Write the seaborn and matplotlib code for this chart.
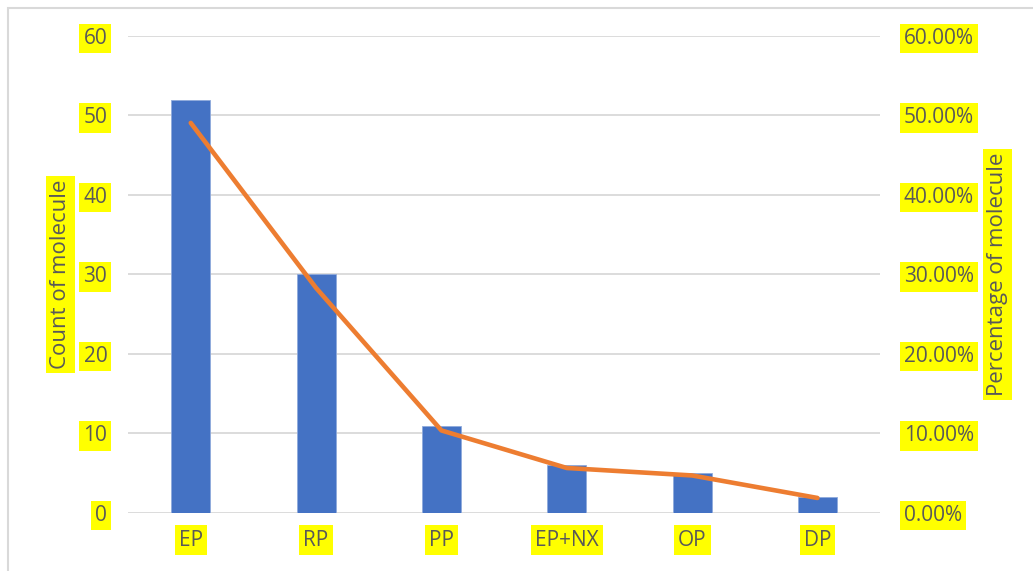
import numpy as np
import matplotlib
matplotlib.use("Agg")
import matplotlib.pyplot as plt
from matplotlib.patches import Rectangle
from matplotlib.ticker import FuncFormatter, MultipleLocator
import seaborn as sns

# ---- data ----
categories = ["EP", "RP", "PP", "EP+NX", "OP", "DP"]
counts = [52, 30, 11, 6, 5, 2]
percent = [49.06, 28.30, 10.38, 5.66, 4.72, 1.89]

bar_color = "#4472C4"
line_color = "#ED7D31"
text_color = "#595959"
grid_color = "#D9D9D9"
hl = dict(facecolor="yellow", edgecolor="none", pad=3)

sns.set_style("white")
plt.rcParams["font.family"] = ["Open Sans", "DejaVu Sans"]

fig = plt.figure(figsize=(10.33, 5.71), dpi=100)
ax = fig.add_axes([0.124, 0.1016, 0.728, 0.8355])

sns.barplot(x=categories, y=counts, ax=ax, color=bar_color, width=0.31,
            saturation=1, edgecolor="#8FAADC", linewidth=0.6, zorder=2)
ax.set_ylim(0, 60)
ax.set_xlim(-0.5, len(categories) - 0.5)
ax.yaxis.set_major_locator(MultipleLocator(10))
ax.grid(axis="y", color=grid_color, linewidth=1.3, zorder=0)
ax.set_axisbelow(True)
for s in ax.spines.values():
    s.set_visible(False)
ax.tick_params(axis="y", length=0, pad=15, labelsize=15, labelcolor=text_color)
ax.tick_params(axis="x", length=0, pad=12, labelsize=15, labelcolor=text_color)
ax.set_xlabel("")
ax.set_ylabel("Count of molecule", fontsize=16, color=text_color, bbox=hl)
ax.yaxis.set_label_coords(-0.076, 0.5)

# right axis with percentage line
ax2 = ax.twinx()
sns.pointplot(x=categories, y=percent, ax=ax2, color=line_color, markers="",
              linestyles="-", errorbar=None)
for ln in ax2.lines:
    ln.set_linewidth(3.3)
    ln.set_solid_capstyle("round")
    ln.set_solid_joinstyle("round")
ax2.set_ylim(0, 60)
ax2.set_xlim(-0.5, len(categories) - 0.5)
ax2.yaxis.set_major_locator(MultipleLocator(10))
ax2.yaxis.set_major_formatter(FuncFormatter(lambda v, p: f"{v:.2f}%"))
for s in ax2.spines.values():
    s.set_visible(False)
ax2.tick_params(axis="y", length=0, pad=17, labelsize=15, labelcolor=text_color)
ax2.set_xlabel("")
ax2.set_ylabel("Percentage of molecule", fontsize=16, color=text_color,
               bbox=hl, rotation=90)
ax2.yaxis.set_label_coords(1.142, 0.5)

for lbl in ax.get_yticklabels() + ax.get_xticklabels() + ax2.get_yticklabels():
    lbl.set_bbox(hl)

# light frame around the chart
fig.patches.append(Rectangle((7.5 / 1033, -0.1), 1.2, (571 - 7.5) / 571 + 0.1,
                             transform=fig.transFigure, fill=False,
                             edgecolor=grid_color, linewidth=1.5))

fig.savefig("out.png", dpi=100)
